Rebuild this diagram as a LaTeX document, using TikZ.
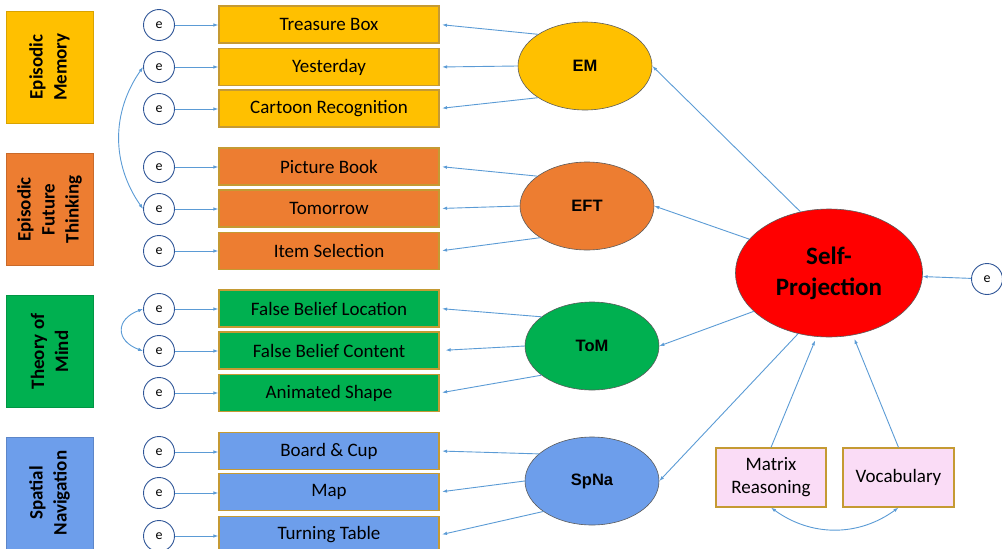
\documentclass[tikz,border=0pt]{standalone}
\usepackage{fontspec}
\setmainfont{Carlito}
\newfontfamily\arialfont{Liberation Sans}
\usetikzlibrary{shapes.geometric,arrows.meta}
\definecolor{lineblue}{HTML}{5B9BD5}
\definecolor{emyellow}{HTML}{FFC000}
\definecolor{eftorange}{HTML}{ED7D31}
\definecolor{tomgreen}{HTML}{00B050}
\definecolor{spblue}{HTML}{6D9EEB}
\definecolor{goldline}{HTML}{C59A33}
\definecolor{pinkfill}{HTML}{FADCF6}
\definecolor{ecircle}{HTML}{2F5597}
\definecolor{ellborder}{HTML}{5A5A5A}
\definecolor{spred}{HTML}{FF0000}
\begin{document}
\begin{tikzpicture}[x=1pt,y=-1pt,
  catbox/.style={draw=#1!85!black, fill=#1, rotate=90, minimum width=112pt, minimum height=87pt, inner sep=0pt, align=center, font=\bfseries\fontsize{19}{24}\selectfont, line width=0.8pt},
  indbox/.style={draw=goldline, fill=#1, minimum width=220pt, minimum height=37pt, inner sep=0pt, font=\fontsize{19}{23}\selectfont, line width=1.2pt},
  errc/.style={circle, draw=ecircle, fill=white, line width=0.9pt, minimum size=31pt, inner sep=0pt, font=\fontsize{14}{16}\selectfont},
  latent/.style={ellipse, draw=ellborder, fill=#1, minimum width=134pt, minimum height=88pt, inner sep=0pt, font=\arialfont\bfseries\fontsize{16.5}{19}\selectfont, line width=0.6pt},
  conn/.style={draw=lineblue, line width=0.9pt, -{Latex[length=5pt,width=3.5pt]}},
  iconn/.style={conn, shorten >=2.5pt},
  dconn/.style={draw=lineblue, line width=0.9pt, {Latex[length=5pt,width=3.5pt]}-{Latex[length=5pt,width=3.5pt]}},
  covbox/.style={draw=goldline, fill=pinkfill, minimum height=59pt, inner sep=0pt, align=center, font=\fontsize{19}{23}\selectfont, line width=1.2pt}
]
\useasboundingbox (0,0) rectangle (1002,549);

% category boxes
\node[catbox=emyellow] (cEM) at (49.5,67) {Episodic\\Memory};
\node[catbox=eftorange] (cEFT) at (49.5,209.5) {Episodic\\Future\\Thinking};
\node[catbox=tomgreen] (cToM) at (49.5,351.5) {Theory of\\Mind};
\node[catbox=spblue] (cSpNa) at (49.5,493) {Spatial\\Navigation};

% indicator boxes
\node[indbox=emyellow] (i1) at (329,24.5) {Treasure Box};
\node[indbox=emyellow] (i2) at (329,67) {Yesterday};
\node[indbox=emyellow] (i3) at (329,108.5) {Cartoon Recognition};
\node[indbox=eftorange] (i4) at (329,166.5) {Picture Book};
\node[indbox=eftorange] (i5) at (329,208.5) {Tomorrow};
\node[indbox=eftorange] (i6) at (329,251) {Item Selection};
\node[indbox=tomgreen] (i7) at (329,308.5) {False Belief Location};
\node[indbox=tomgreen] (i8) at (329,350.5) {False Belief Content};
\node[indbox=tomgreen] (i9) at (329,393) {Animated Shape};
\node[indbox=spblue] (i10) at (329,451) {Board \& Cup};
\node[indbox=spblue] (i11) at (329,492) {Map};
\node[indbox=spblue] (i12) at (329,535) {Turning Table};

% error circles
\node[errc] (e1) at (159,25) {e};
\node[errc] (e2) at (159,67) {e};
\node[errc] (e3) at (159,109) {e};
\node[errc] (e4) at (159,167) {e};
\node[errc] (e5) at (159,209) {e};
\node[errc] (e6) at (159,251) {e};
\node[errc] (e7) at (159,309) {e};
\node[errc] (e8) at (159,351) {e};
\node[errc] (e9) at (159,393) {e};
\node[errc] (e10) at (159,452) {e};
\node[errc] (e11) at (159,493) {e};
\node[errc] (e12) at (159,536) {e};
\node[errc] (eSP) at (987,279) {e};

% latent variables
\node[latent=emyellow] (EM) at (585,66) {EM};
\node[latent=eftorange] (EFT) at (587,206) {EFT};
\node[latent=tomgreen] (ToM) at (592,346) {ToM};
\node[latent=spblue] (SpNa) at (592,481) {SpNa};
\node[ellipse, draw=ellborder, fill=spred, minimum width=187pt, minimum height=128pt, inner sep=0pt, align=center, line width=0.6pt, font=\bfseries\fontsize{25}{31}\selectfont] (SP) at (829,273) {Self-\\Projection};

% covariates
\node[covbox, minimum width=110pt] (MR) at (771,477.5) {Matrix\\Reasoning};
\node[covbox, minimum width=111pt] (VO) at (898.5,477.5) {Vocabulary};

% error -> indicator
\foreach \k in {1,...,12} {
  \draw[conn] (e\k.east) -- (e\k.east -| i\k.west);
}

% latent -> indicators
\draw[iconn] (EM.146) -- (i1.east);
\draw[iconn] (EM.west) -- (i2.east);
\draw[iconn] (EM.214) -- (i3.east);
\draw[iconn] (EFT.149) -- (i4.east);
\draw[iconn] (EFT.west) -- (i5.east);
\draw[iconn] (EFT.214) -- (i6.east);
\draw[iconn] (ToM.150) -- (i7.east);
\draw[iconn, shorten >=6pt] (ToM.west) -- (i8.east);
\draw[iconn] (ToM.210) -- (i9.east);
\draw[iconn] (SpNa.153) -- (i10.east);
\draw[iconn] (SpNa.west) -- (i11.east);
\draw[iconn] (SpNa.212) -- (i12.east);

% self-projection -> latents
\draw[conn] (SP.115) -- (EM.east);
\draw[conn] (SP.157) -- (EFT.east);
\draw[conn] (SP.207) -- (ToM.east);
\draw[conn] (SP.243) -- (SpNa.east);
\draw[conn] (eSP) -- (SP);
\draw[conn, shorten >=4pt] (MR.north) -- (SP.259);
\draw[conn, shorten >=4pt] (VO.north) -- (SP.291);

% covariances
\draw[dconn] (e2.west) to[bend right=35] (e5.west);
\draw[dconn] (e7.west) to[out=200,in=160,looseness=1.8] (e8.west);
\draw[dconn] (MR.south) to[bend right=36] (VO.south);
\end{tikzpicture}
\end{document}
